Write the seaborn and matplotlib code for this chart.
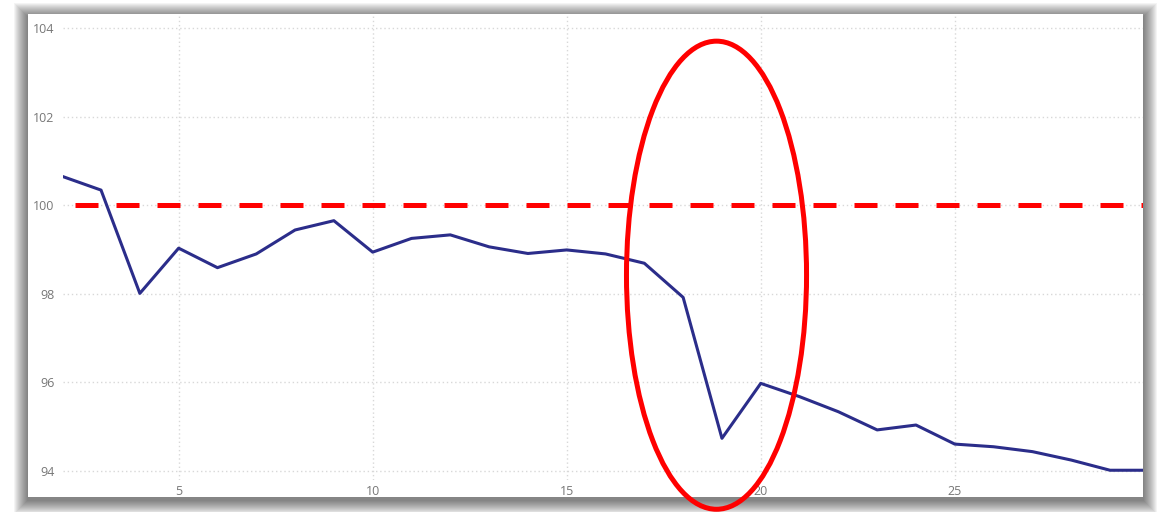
import numpy as np
import pandas as pd
import matplotlib
matplotlib.use("Agg")
import matplotlib.pyplot as plt
from matplotlib.patches import Ellipse, Rectangle
import seaborn as sns

# Data
days = list(range(2, 31))
values = [100.65, 100.34, 98.01, 99.03, 98.59, 98.90, 99.44, 99.65, 98.94, 99.25,
          99.33, 99.06, 98.91, 98.99, 98.90, 98.69, 97.92, 94.74, 95.98, 95.68,
          95.34, 94.93, 95.04, 94.61, 94.55, 94.44, 94.25, 94.02, 94.02]
threshold = 100
x_ticks = [5, 10, 15, 20, 25]
y_ticks = [94, 96, 98, 100, 102, 104]

# highlighted region (the drop around day 19)
highlight_center = (18.86, 98.42)
highlight_size = (4.64, 10.56)

LINE_COLOR = "#2B2D8A"
W, H = 1165, 512

sns.set_theme(style="white")
plt.rcParams['font.family'] = ['Open Sans', 'DejaVu Sans']

fig = plt.figure(figsize=(W / 100, H / 100), dpi=100)
fig.patch.set_facecolor("white")

# card with drop shadow (pixel coords, origin bottom-left)
bx, by, bw, bh = 28, 15, 1115, 483
for i in range(1, 15):
    fig.patches.append(Rectangle(((bx - i) / W, (by - i - 3) / H), (bw + 2 * i) / W, (bh + 2 * i) / H,
                                 transform=fig.transFigure, facecolor="black", edgecolor="none",
                                 alpha=0.042, zorder=-3))
fig.patches.append(Rectangle((bx / W, by / H), bw / W, bh / H, transform=fig.transFigure,
                             facecolor="white", edgecolor="none", zorder=-1))

ax = fig.add_axes([63 / W, 32 / H, (1143 - 63) / W, 465 / H])
ax.set_facecolor("white")

df = pd.DataFrame({"day": days, "value": values})
sns.lineplot(data=df, x="day", y="value", color=LINE_COLOR, linewidth=2.2, ax=ax, zorder=3)

ax.hlines(threshold, 2.33, 29.9, colors="red", linewidth=3.6, linestyles=(0, (4.6, 3.6)), zorder=4)

ell = Ellipse(highlight_center, highlight_size[0], highlight_size[1], fill=False,
              edgecolor="red", linewidth=3.6, clip_on=False, zorder=6)
ax.add_patch(ell)

ax.set_xlim(2.02, 29.85)
ax.set_ylim(93.8, 104.29)
ax.set_xticks(x_ticks)
ax.set_yticks(y_ticks)
ax.set_xlabel("")
ax.set_ylabel("")
ax.tick_params(axis="both", length=0, labelsize=9, labelcolor="#777777")
ax.tick_params(axis="y", pad=6)
ax.tick_params(axis="x", pad=3.5)
ax.grid(True, color="#d8d8d8", linewidth=1.0, linestyle=(0, (1, 2)))
for s in ax.spines.values():
    s.set_visible(False)

fig.savefig("out.png", dpi=100)
